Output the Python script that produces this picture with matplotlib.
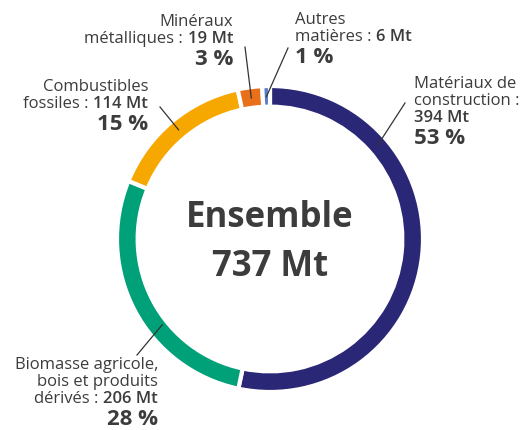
import matplotlib
matplotlib.use("Agg")
import matplotlib.pyplot as plt
import numpy as np

categories = ["Matériaux de construction", "Biomasse agricole, bois et produits dérivés",
              "Combustibles fossiles", "Minéraux métalliques", "Autres matières"]
values = [394, 206, 114, 19, 6]
percents = ["53 %", "28 %", "15 %", "3 %", "1 %"]
# each line: (regular part, semibold part)
label_lines = [
    [("Matériaux de", ""), ("construction :", ""), ("", "394 Mt")],
    [("Biomasse agricole,", ""), ("bois et produits", ""), ("dérivés : ", "206 Mt")],
    [("Combustibles", ""), ("fossiles : ", "114 Mt")],
    [("Minéraux", ""), ("métalliques : ", "19 Mt")],
    [("Autres", ""), ("matières : ", "6 Mt")],
]
total_title = "Ensemble"
total_value = "737 Mt"
colors = ["#2b2777", "#00a078", "#f6a800", "#e8701a", "#5a7cc8"]

W, H = 531, 430
CX, CY, R = 270, 239, 153
fig = plt.figure(figsize=(W / 100, H / 100), dpi=100)
ax = fig.add_axes([0, 0, 1, 1])

def px(x, y):
    return ((x - CX) / R, (CY - y) / R)

wedges, _ = ax.pie(values, colors=colors, startangle=90, counterclock=False, radius=1.0,
                   wedgeprops=dict(width=0.135, edgecolor="white", linewidth=3))
ax.set_aspect("auto")
ax.set_xlim(-CX / R, (W - CX) / R)
ax.set_ylim(-(H - CY) / R, CY / R)
ax.axis("off")

txt = "#3c3c3c"
fam = ["Open Sans", "DejaVu Sans"]
ax.text(*px(270, 227), total_title, ha="center", va="baseline", fontsize=25,
        fontweight="bold", color=txt, family=fam)
ax.text(*px(270, 276), total_value, ha="center", va="baseline", fontsize=25,
        fontweight="bold", color=txt, family=fam)

# x anchor, first baseline, alignment, leader line start, anchor angle override, radius
cfg = [
    dict(x=414, y=88, ha="left", ls=(405, 103), ang=41, r=0.93),
    dict(x=158, y=369, ha="right", ls=(137, 355), ang=218.5, r=0.90),
    dict(x=148, y=91, ha="right", ls=(160, 107), ang=None, r=0.93),
    dict(x=233, y=26, ha="right", ls=(245, 47), ang=None, r=0.93),
    dict(x=295, y=24, ha="left", ls=(288, 48), ang=None, r=0.93),
]
line_h = 17
fs = 12
for w, lines, pct, c in zip(wedges, label_lines, percents, cfg):
    for i, (reg, bold) in enumerate(lines):
        pos = px(c["x"], c["y"] + i * line_h)
        if c["ha"] == "right":
            first, second = (bold, "semibold"), (reg, "normal")
        else:
            first, second = (reg, "normal"), (bold, "semibold")
        if not first[0]:
            first, second = second, ("", "normal")
        t1 = ax.text(*pos, first[0], ha=c["ha"], va="baseline", fontsize=fs,
                     fontweight=first[1], color=txt, family=fam)
        if second[0]:
            xy = (0, 0) if c["ha"] == "right" else (1, 0)
            ax.annotate(second[0], xy=xy, xycoords=t1, ha=c["ha"], va="bottom",
                        fontsize=fs, fontweight=second[1], color=txt, family=fam)
    ax.text(*px(c["x"], c["y"] + (len(lines) - 1) * line_h + 22), pct, ha=c["ha"],
            va="baseline", fontsize=16, fontweight="bold", color=txt, family=fam)
    ang = c["ang"] if c["ang"] is not None else (w.theta1 + w.theta2) / 2
    a = np.deg2rad(ang)
    ex, ey = c["r"] * np.cos(a), c["r"] * np.sin(a)
    sx, sy = px(*c["ls"])
    ax.plot([sx, ex], [sy, ey], color="#333333", lw=0.9)

fig.savefig("out.png", dpi=100)
